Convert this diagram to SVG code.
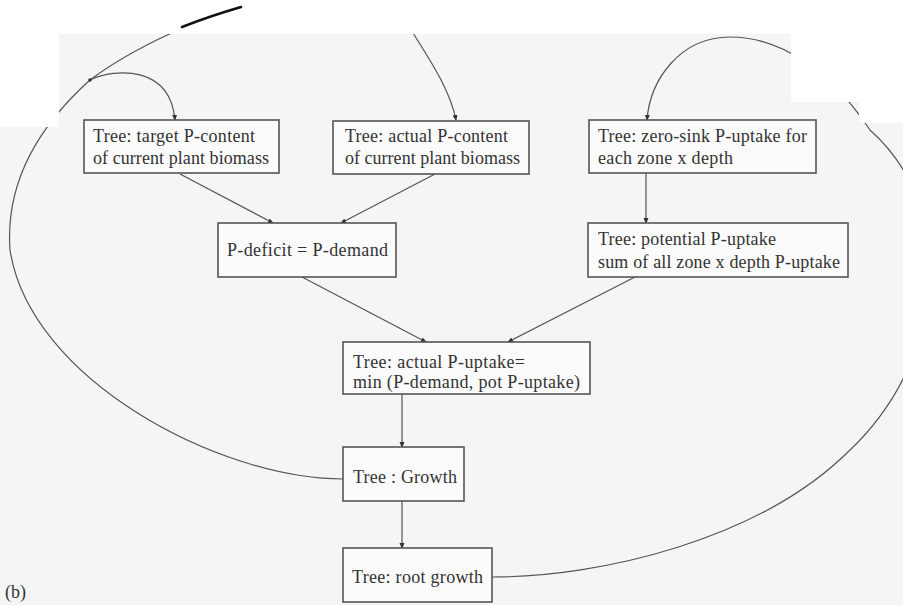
<svg xmlns="http://www.w3.org/2000/svg" width="903" height="605" viewBox="0 0 903 605">
<defs>
<style>
.bg{fill:#f4f5f7}
.patch{fill:#ffffff}
.box{fill:#fbfbfb;stroke:#555;stroke-width:1.6}
.t{font-family:"Liberation Serif","Times New Roman",serif;font-size:18px;fill:#333}
.c{fill:none;stroke:#555;stroke-width:1.2}
</style>
<marker id="ah" markerUnits="userSpaceOnUse" markerWidth="6" markerHeight="6" refX="5" refY="3" orient="auto">
<path d="M0,0.5 L6,3 L0,5.5 z" fill="#333"/>
</marker>
</defs>
<rect class="bg" x="0" y="0" width="903" height="605"/>
<g id="connectors">
<path class="c" marker-end="url(#ah)" d="M343,479 C220,479 30,380 10,250 C5,180 40,125 90,80 C130,50 200,15 280,-5 C350,-20 395,5 413,33 C430,60 450,90 456,120"/>
<path class="c" marker-end="url(#ah)" d="M90,80 C115,68 170,65 175,120"/>
<path class="c" marker-end="url(#ah)" d="M492,577 C600,577 760,540 850,450 C945,360 960,210 870,130 C830,70 780,37 730,37 C680,37 650,80 647,120"/>
<path class="c" marker-end="url(#ah)" d="M180,174 L273,223"/>
<path class="c" marker-end="url(#ah)" d="M435,174 L341,223"/>
<path class="c" marker-end="url(#ah)" d="M302,277 L426,342"/>
<path class="c" marker-end="url(#ah)" d="M635,277 L508,342"/>
<path class="c" marker-end="url(#ah)" d="M646,173 L646,223"/>
<path class="c" marker-end="url(#ah)" d="M402,394 L402,447"/>
<path class="c" marker-end="url(#ah)" d="M402,501 L402,548"/>
<circle cx="90" cy="80" r="1.8" fill="#333"/>
</g>
<g id="scan-patches">
<rect class="patch" x="0" y="0" width="903" height="34"/>
<rect class="patch" x="0" y="0" width="59" height="127"/>
<rect class="patch" x="791" y="0" width="112" height="102"/>
<rect class="patch" x="859" y="100" width="44" height="23"/>
<path d="M182,27 Q210,16 241,7" fill="none" stroke="#111" stroke-width="2.6" stroke-linecap="round"/>
</g>
<g id="n1">
<rect class="box" x="84" y="120" width="195" height="53"/>
<text class="t" x="93" y="142" textLength="162" lengthAdjust="spacing">Tree: target P-content</text>
<text class="t" x="93" y="164" textLength="176" lengthAdjust="spacing">of current plant biomass</text>
</g>
<g id="n2">
<rect class="box" x="333" y="121" width="196" height="53"/>
<text class="t" x="345" y="142" textLength="163" lengthAdjust="spacing">Tree: actual P-content</text>
<text class="t" x="345" y="164" textLength="175" lengthAdjust="spacing">of current plant biomass</text>
</g>
<g id="n3">
<rect class="box" x="589" y="120" width="227" height="53"/>
<text class="t" x="598" y="142" textLength="209" lengthAdjust="spacing">Tree: zero-sink P-uptake for</text>
<text class="t" x="598" y="164" textLength="135" lengthAdjust="spacing">each zone x depth</text>
</g>
<g id="n4">
<rect class="box" x="588" y="223" width="260" height="54"/>
<text class="t" x="598" y="245" textLength="178" lengthAdjust="spacing">Tree: potential P-uptake</text>
<text class="t" x="598" y="268" textLength="242" lengthAdjust="spacing">sum of all zone x depth P-uptake</text>
</g>
<g id="n5">
<rect class="box" x="218" y="223" width="178" height="54"/>
<text class="t" x="227" y="256" textLength="161" lengthAdjust="spacing">P-deficit = P-demand</text>
</g>
<g id="n6">
<rect class="box" x="343" y="342" width="247" height="52"/>
<text class="t" x="353" y="368" textLength="172" lengthAdjust="spacing">Tree: actual P-uptake=</text>
<text class="t" x="353" y="388" textLength="227" lengthAdjust="spacing">min (P-demand, pot P-uptake)</text>
</g>
<g id="n7">
<rect class="box" x="343" y="447" width="121" height="54"/>
<text class="t" x="353" y="483" textLength="104" lengthAdjust="spacing">Tree : Growth</text>
</g>
<g id="n8">
<rect class="box" x="343" y="548" width="149" height="54"/>
<text class="t" x="352" y="583" textLength="131" lengthAdjust="spacing">Tree: root growth</text>
</g>
<text class="t" x="5" y="598">(b)</text>
</svg>
